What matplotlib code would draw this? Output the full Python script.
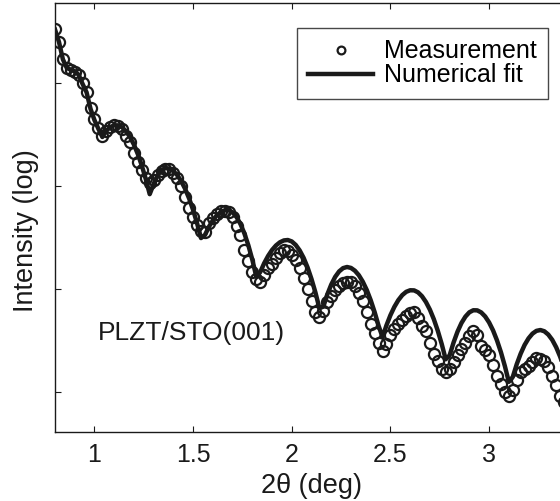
import numpy as np
import matplotlib.pyplot as plt

plt.rcParams['font.family'] = ['Liberation Sans', 'DejaVu Sans']

# scan grid, 2theta in degrees (0.02 deg step)
two_theta = np.round(np.arange(0.80, 3.401, 0.02), 2)

meas_log = [3.52, 3.40, 3.23, 3.15, 3.13, 3.11, 3.08, 3.00, 2.91, 2.76,
            2.65, 2.56, 2.49, 2.53, 2.575, 2.59, 2.585, 2.55, 2.49, 2.43,
            2.32, 2.23, 2.16, 2.08, 2.03, 2.06, 2.11, 2.15, 2.17, 2.165,
            2.13, 2.08, 2.00, 1.89, 1.79, 1.70, 1.62, 1.56, 1.55, 1.64,
            1.69, 1.73, 1.755, 1.76, 1.745, 1.70, 1.61, 1.52, 1.38, 1.27,
            1.17, 1.10, 1.07, 1.14, 1.20, 1.24, 1.30, 1.35, 1.375, 1.37,
            1.33, 1.28, 1.20, 1.11, 1.00, 0.88, 0.78, 0.73, 0.79, 0.87,
            0.93, 0.99, 1.03, 1.06, 1.07, 1.065, 1.03, 0.96, 0.88, 0.78,
            0.66, 0.57, 0.48, 0.40, 0.47, 0.55, 0.61, 0.66, 0.70, 0.74,
            0.77, 0.78, 0.72, 0.64, 0.59, 0.48, 0.37, 0.30, 0.22, 0.19,
            0.22, 0.29, 0.36, 0.42, 0.48, 0.54, 0.59, 0.55, 0.45, 0.41,
            0.36, 0.26, 0.16, 0.08, 0.00, -0.04, 0.02, 0.12, 0.19, 0.22,
            0.25, 0.29, 0.33, 0.32, 0.30, 0.24, 0.16, 0.07, -0.04, -0.10,
            -0.15]

# log10 of the numerical fit
fit_log = [3.52, 3.40, 3.23, 3.145, 3.13, 3.115, 3.08, 2.99, 2.91, 2.75,
           2.64, 2.555, 2.476, 2.537, 2.572, 2.590, 2.589, 2.570, 2.532, 2.476,
           2.402, 2.309, 2.198, 2.068, 1.921, 2.020, 2.103, 2.155, 2.175, 2.169,
           2.145, 2.105, 2.046, 1.971, 1.878, 1.767, 1.639, 1.495, 1.525, 1.604,
           1.667, 1.715, 1.747, 1.764, 1.765, 1.744, 1.699, 1.631, 1.539, 1.424,
           1.285, 1.122, 1.164, 1.250, 1.321, 1.379, 1.423, 1.454, 1.472, 1.476,
           1.462, 1.428, 1.375, 1.303, 1.210, 1.097, 0.966, 0.814, 0.829, 0.947,
           1.043, 1.118, 1.171, 1.203, 1.214, 1.205, 1.178, 1.134, 1.071, 0.991,
           0.892, 0.776, 0.643, 0.534, 0.648, 0.746, 0.827, 0.892, 0.941, 0.973,
           0.988, 0.987, 0.968, 0.930, 0.874, 0.800, 0.707, 0.595, 0.466, 0.318,
           0.356, 0.481, 0.586, 0.670, 0.732, 0.774, 0.794, 0.793, 0.773, 0.734,
           0.676, 0.599, 0.502, 0.387, 0.252, 0.099, 0.146, 0.269, 0.372, 0.457,
           0.521, 0.567, 0.594, 0.602, 0.590, 0.558, 0.507, 0.435, 0.344, 0.233,
           0.102]

ink = '#1a1a1a'
fs = 18

fig = plt.figure(figsize=(5.6, 5.01), dpi=100)
ax = fig.add_axes([55 / 560, 69 / 501, 513 / 560, 429 / 501])

ax.semilogy(two_theta, 10 ** np.array(fit_log), color=ink, lw=3.2,
            label='Numerical fit', zorder=2)
ax.semilogy(two_theta, 10 ** np.array(meas_log), 'o', mfc='none', mec=ink,
            mew=1.6, ms=8, label='Measurement', zorder=3)

ax.set_xlim(0.8, 3.4)
ax.set_ylim(10 ** -0.388, 10 ** 3.777)
ax.set_xticks([1, 1.5, 2, 2.5, 3])
ax.set_xticklabels(['1', '1.5', '2', '2.5', '3'])
ax.set_yticks([1, 10, 100, 1000])
ax.yaxis.set_minor_locator(plt.NullLocator())
ax.set_yticklabels([])
ax.tick_params(direction='in', length=4, width=0.8, top=True, right=True,
               labelsize=fs, pad=8, colors=ink)
for s in ax.spines.values():
    s.set_color(ink)
    s.set_linewidth(1.0)

ax.set_xlabel('2θ (deg)', fontsize=19.5, color=ink, labelpad=4)
ax.set_ylabel('Intensity (log)', fontsize=19.5, color=ink)
ax.yaxis.set_label_coords(-0.031, 0.47)

ax.text(1.018, 10 ** 0.573, 'PLZT/STO(001)', fontsize=19, color=ink, va='center')

handles, labels = ax.get_legend_handles_labels()
leg = ax.legend(handles[::-1], labels[::-1], loc='upper left',
                bbox_to_anchor=(242 / 513, 1 - 25 / 429), fontsize=fs,
                frameon=True, fancybox=False, edgecolor=ink, markerscale=0.7,
                handlelength=2.6, handletextpad=0.44, borderpad=0.45,
                labelspacing=0.0, borderaxespad=0)
leg.get_frame().set_linewidth(1.0)

fig.savefig('out.png', dpi=100)
